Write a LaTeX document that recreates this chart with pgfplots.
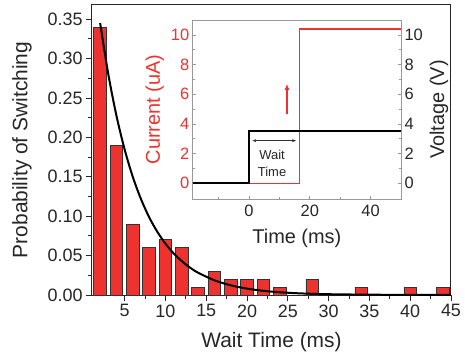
\documentclass[border=0pt]{standalone}
\usepackage{fontspec}
\setmainfont{Liberation Sans}
\usepackage{pgfplots}
\pgfplotsset{compat=1.18}
\usetikzlibrary{arrows.meta}
\definecolor{myred}{RGB}{237,50,47}
\begin{document}
\begin{tikzpicture}
\begin{axis}[
  at={(0,0)}, anchor=south west,
  scale only axis, width=359bp, height=290bp,
  xmin=1, xmax=45, ymin=0, ymax=0.368,
  xtick={5,10,...,45}, ytick={0,0.05,0.10,0.15,0.20,0.25,0.30,0.35},
  minor x tick num=1, minor y tick num=1,
  tick pos=left, tick align=outside,
  major tick length=6bp, minor tick length=4bp,
  axis line style={line width=1bp, black!85},
  every tick/.style={black!85, line width=0.8bp},
  tick label style={font=\fontsize{18}{18}\selectfont},
  /pgf/number format/assume math mode=true,
  yticklabel style={/pgf/number format/.cd, fixed, fixed zerofill, precision=2},
  xlabel={Wait Time (ms)}, ylabel={Probability of Switching},
  xlabel shift=8bp, ylabel shift=9bp,
  label style={font=\fontsize{21}{21}\selectfont, black!85},
  tick label style={black!85},
]
\addplot[ybar, bar width=1.55, fill=myred, draw=black!80, line width=0.7bp] coordinates {
  (2,0.34) (4,0.19) (6,0.09) (8,0.06) (10,0.07) (12,0.06) (14,0.01) (16,0.03)
  (18,0.02) (20,0.02) (22,0.02) (24,0.01) (28,0.02) (34,0.01) (40,0.01) (44,0.01)
};
\addplot[black, line width=2bp, smooth] coordinates {
  (2,0.345) (3,0.280) (4,0.2274) (5,0.1847) (6,0.1499) (7,0.1218) (8,0.0988)
  (9,0.0803) (10,0.0652) (11,0.0529) (12,0.0430) (13,0.0349) (14,0.0283)
  (16,0.0187) (18,0.0123) (20,0.0081) (22,0.0053) (24,0.0035) (26,0.0023)
  (28,0.0015) (30,0.0010) (35,0.0004) (40,0.0002) (45,0.0001)
};
\end{axis}
% inset: current (left axis)
\begin{axis}[
  at={(100.7bp,96bp)}, anchor=south west,
  scale only axis, width=208.3bp, height=179bp,
  xmin=-18.5, xmax=50, ymin=-1.06, ymax=11,
  xtick={0,20,40}, minor xtick={-10,10,30},
  ytick={0,2,4,6,8,10}, minor ytick={1,3,5,7,9},
  xtick pos=left, ytick pos=left, tick align=inside,
  major tick length=3bp, minor tick length=2bp,
  axis line style={gray!80, line width=0.8bp},
  every tick/.style={gray!80, line width=0.6bp},
  tick label style={font=\fontsize{16.5}{16.5}\selectfont},
  /pgf/number format/assume math mode=true,
  yticklabel style={myred}, xticklabel style={black!85, yshift=-3bp},
  xlabel={Time (ms)}, ylabel={Current (uA)},
  xlabel shift=5bp,
  label style={font=\fontsize{20}{20}\selectfont},
  xlabel style={black!85}, ylabel style={myred},
  fill=white,
]
\addplot[myred, line width=1.5bp] coordinates {(0,0) (16.6,0) (16.6,10.4) (50,10.4)};
\addplot[black, line width=1.8bp] coordinates {(-18.5,0) (0,0) (0,3.5) (50,3.5)};
\draw[myred, line width=1.2bp, -{Latex[length=6bp,width=5bp]}] (axis cs:12.5,4.7) -- (axis cs:12.5,6.7);
\draw[black!80, line width=0.6bp, {Latex[length=4bp,width=3bp]}-{Latex[length=4bp,width=3bp]}] (axis cs:1,2.87) -- (axis cs:15.6,2.87);
\node[font=\fontsize{13}{17}\selectfont, align=center, black!85] at (axis cs:7.6,1.35) {Wait\\Time};
\end{axis}
% inset: voltage (right axis)
\begin{axis}[
  at={(100.7bp,96bp)}, anchor=south west,
  scale only axis, width=208.3bp, height=179bp,
  xmin=-18.5, xmax=50, ymin=-1.06, ymax=11,
  axis x line=none, axis y line*=right,
  ytick={0,2,4,6,8,10}, minor ytick={1,3,5,7,9},
  ytick pos=right, tick align=inside,
  major tick length=3bp, minor tick length=2bp,
  axis line style={gray!80, line width=0.8bp, -},
  every tick/.style={gray!80, line width=0.6bp},
  tick label style={font=\fontsize{16.5}{16.5}\selectfont, black!85},
  /pgf/number format/assume math mode=true,
  ylabel={Voltage (V)},
  label style={font=\fontsize{20}{20}\selectfont, black!85},
]
\end{axis}
\pgfresetboundingbox
\path (-92bp,-63bp) rectangle (373bp,295bp);
\end{tikzpicture}
\end{document}
